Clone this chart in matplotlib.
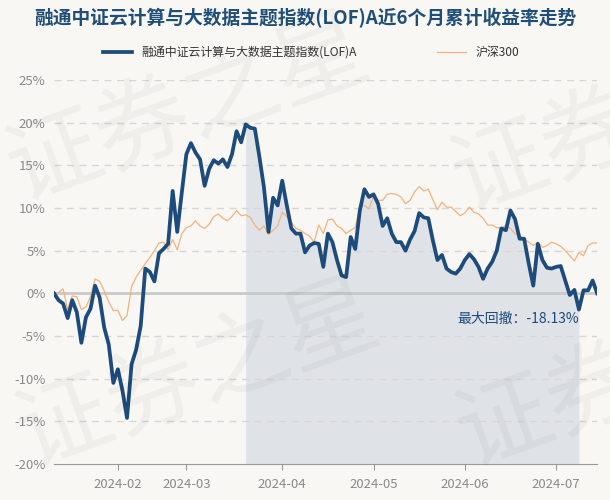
import numpy as np
import pandas as pd
import matplotlib
matplotlib.use('Agg')
import matplotlib.pyplot as plt

plt.rcParams['font.family'] = ['Noto Sans CJK SC', 'DejaVu Sans']
plt.rcParams['axes.unicode_minus'] = False

# trading days (A-share calendar, holidays removed)
holidays = ['2024-02-09', '2024-02-12', '2024-02-13', '2024-02-14', '2024-02-15',
            '2024-02-16', '2024-04-04', '2024-04-05', '2024-05-01', '2024-05-02',
            '2024-05-03']
dates = pd.bdate_range('2024-01-12', '2024-07-12')
dates = dates[~dates.isin(pd.to_datetime(holidays))]

fund_name = '融通中证云计算与大数据主题指数(LOF)A'
bench_name = '沪深300'

# cumulative return, %
fund = [0.0, -0.8, -1.2, -2.9, -0.8, -2.2, -5.8, -2.8, -1.8, 0.9,
        -0.5, -4.0, -6.0, -10.5, -8.9, -11.4, -14.6, -8.3, -6.6, -3.8,
        2.9, 2.5, 1.4, 4.7, 5.2, 5.8, 12.0, 7.2, 11.8, 16.3,
        17.6, 16.5, 15.7, 12.6, 14.6, 15.6, 15.2, 15.7, 14.8, 16.3,
        19.0, 17.7, 19.8, 19.4, 19.3, 16.0, 12.4, 7.2, 11.2, 10.3,
        13.2, 10.3, 7.6, 7.0, 7.0, 4.8, 5.6, 5.9, 5.8, 3.1,
        7.0, 6.0, 3.9, 2.1, 1.9, 6.6, 5.2, 9.7, 12.2, 11.3,
        11.6, 10.5, 7.9, 8.8, 7.0, 6.0, 6.0, 5.0, 6.3, 7.3,
        9.4, 8.9, 8.8, 6.2, 3.9, 4.5, 2.9, 2.5, 2.3, 2.9,
        3.9, 4.6, 4.0, 3.1, 1.7, 2.9, 3.7, 5.0, 7.6, 7.4,
        9.7, 8.7, 6.4, 6.4, 3.5, 0.9, 5.8, 3.9, 3.0, 2.9,
        3.1, 3.2, 1.5, -0.2, 0.4, -1.9, 0.35, 0.35, 1.5, 0.0]

bench = [0.0, 0.1, 0.5, -1.9, -0.3, -0.4, -1.9, -1.6, -0.4, 1.7,
         1.4, 0.3, -1.0, -2.0, -2.0, -3.2, -2.6, 0.8, 1.9, 2.7,
         3.5, 4.2, 5.0, 5.9, 6.0, 5.1, 6.3, 5.1, 7.0, 7.7,
         7.9, 8.5, 7.9, 7.6, 8.1, 9.0, 9.3, 8.8, 8.5, 9.0,
         9.7, 9.1, 9.2, 8.9, 8.0, 7.4, 7.9, 6.9, 7.4, 7.9,
         9.5, 9.0, 8.3, 7.6, 7.4, 7.0, 6.7, 6.0, 8.0, 7.0,
         8.6, 8.7, 7.9, 7.6, 7.0, 7.4, 7.7, 10.2, 10.3, 9.9,
         11.4, 10.9, 10.9, 11.6, 11.7, 11.6, 11.3, 10.5, 10.9, 11.9,
         12.5, 12.0, 12.2, 11.0, 9.8, 10.7, 10.1, 10.1, 9.6, 9.1,
         9.4, 10.1, 9.5, 9.3, 8.8, 8.0, 8.0, 7.7, 7.7, 7.9,
         7.6, 7.0, 6.7, 6.4, 6.0, 5.6, 6.0, 5.4, 5.6, 6.0,
         5.8, 5.5, 5.0, 4.4, 3.8, 4.8, 4.4, 5.6, 5.9, 5.9]

max_dd_label = '最大回撤：-18.13%'
yticks = [-20, -15, -10, -5, 0, 5, 10, 15, 20, 25]

fund = np.array(fund)
bench = np.array(bench)
x = np.arange(len(dates))

# max drawdown window
peak = int(np.argmax(fund))
trough = peak + int(np.argmin(fund[peak:]))

bg = '#f9f7f3'
navy = '#1d4b7b'
orange = '#f2b27e'

fig = plt.figure(figsize=(6.1, 5.0), dpi=100, facecolor=bg)
ax = fig.add_axes([0.0885, 0.072, 0.8905, 0.768])
ax.set_facecolor(bg)

ax.fill_between(x[peak:trough + 1], fund[peak:trough + 1], -20,
                color='#dfe3e8', zorder=1, linewidth=0)
for v in yticks:
    if v == 0:
        ax.axhline(0, color='#c9c9c9', lw=2, zorder=2)
    elif v != -20:
        ax.axhline(v, color='#d6d6d6', lw=1, ls=(0, (5, 4)), zorder=2)

ax.plot(x, bench, color=orange, lw=0.9, zorder=3, label=bench_name)
ax.plot(x, fund, color=navy, lw=2.7, zorder=4, label=fund_name)

ax.text(trough, -3.0, max_dd_label, ha='right', va='center',
        fontsize=10, color=navy, zorder=5)

ax.set_xlim(0, len(x) - 1)
ax.set_ylim(-20, 25)
ax.set_yticks(yticks)
ax.set_yticklabels([f'{v}%' for v in yticks])

# month ticks at first trading day of each month
months = dates.to_period('M')
tick_pos = [i for i in range(1, len(dates)) if months[i] != months[i - 1]]
ax.set_xticks(tick_pos)
ax.set_xticklabels([dates[i].strftime('%Y-%m') for i in tick_pos])

for s in ['top', 'right', 'left']:
    ax.spines[s].set_visible(False)
ax.spines['bottom'].set_color('#999999')
ax.tick_params(axis='y', length=0, labelsize=9.5, labelcolor='#8a8a8a', pad=6)
ax.tick_params(axis='x', length=4, color='#999999', labelsize=9.5,
               labelcolor='#8a8a8a', pad=6)

handles, labels = ax.get_legend_handles_labels()
leg = fig.legend(handles[::-1], labels[::-1], loc='center', ncol=2,
                 bbox_to_anchor=(0.51, 0.895), frameon=False, fontsize=8.6,
                 handlelength=2.4, columnspacing=6.7, handletextpad=0.8)
for t in leg.get_texts():
    t.set_color('#333333')

fig.text(0.5, 0.963, '融通中证云计算与大数据主题指数(LOF)A近6个月累计收益率走势',
         ha='center', va='center', fontsize=13.5, fontweight='bold', color='#1f4e79')

# watermark
for (px, py) in [(10, 175), (20, 440), (455, 185), (460, 440)]:
    fig.text(px / 610, 1 - py / 500, '证券之星', fontsize=68, color='#000000',
             alpha=0.04, rotation=20, rotation_mode='anchor', ha='left', va='center')

fig.savefig('out.png', dpi=100, facecolor=bg)
